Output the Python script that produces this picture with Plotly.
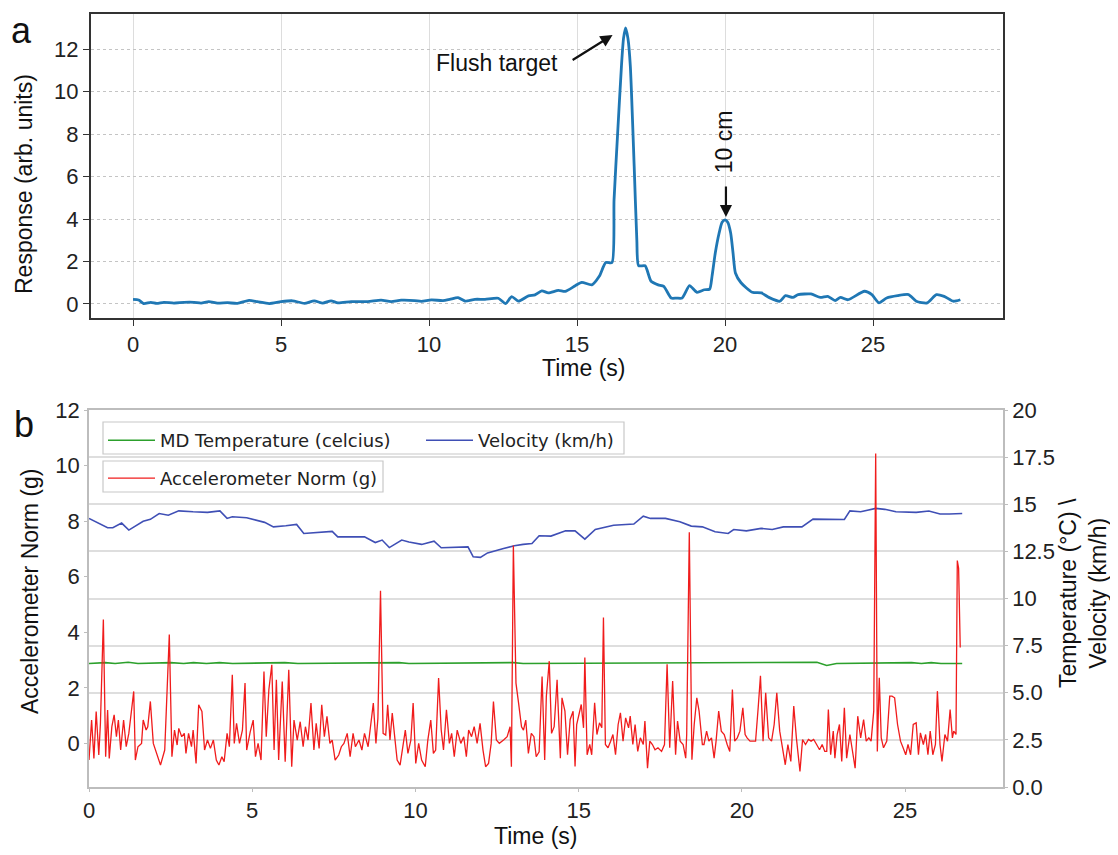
import plotly.graph_objects as go

# browser body margin offset compensation
OFF = 8
W, H = 1118 - OFF, 855 - OFF

# ---------------- Panel a : response vs time ----------------
resp_time = [0, 0.19, 0.36, 0.6, 0.8, 1.04, 1.38, 1.72, 2.06, 2.3, 2.56, 2.85, 3.19, 3.53, 3.92, 4.2, 4.6,
             5.0, 5.39, 5.79, 6.12, 6.41, 6.69, 6.92, 7.37, 7.93, 8.38, 8.72, 9.06, 9.51, 9.74, 10.08,
             10.47, 10.7, 10.98, 11.21, 11.55, 11.89, 12.34, 12.59, 12.79, 13.02, 13.36, 13.58, 13.81,
             14.03, 14.37, 14.6, 14.94, 15.16, 15.5, 15.75, 15.97, 16.18, 16.25, 16.37, 16.5, 16.57,
             16.64, 16.72, 16.8, 16.93, 17.02, 17.08, 17.3, 17.5, 17.74, 17.93, 18.18, 18.36, 18.55,
             18.8, 19.05, 19.3, 19.48, 19.56, 19.67, 19.8, 19.9, 20.0, 20.09, 20.19, 20.27, 20.35,
             20.54, 20.92, 21.23, 21.48, 21.85, 22.04, 22.29, 22.47, 22.9, 23.22, 23.47, 23.72, 23.9,
             24.15, 24.71, 24.96, 25.2, 25.46, 25.83, 26.2, 26.46, 26.83, 27.14, 27.4, 27.71, 27.95]
resp_value = [0.22, 0.19, 0.02, 0.08, 0.03, 0.08, 0.04, 0.08, 0.08, 0.04, 0.11, 0.04, 0.06, 0.03, 0.17,
              0.11, 0.02, 0.11, 0.15, 0.03, 0.15, 0.04, 0.15, 0.05, 0.11, 0.11, 0.18, 0.11, 0.18, 0.16,
              0.12, 0.19, 0.16, 0.22, 0.3, 0.14, 0.22, 0.22, 0.27, 0.02, 0.35, 0.13, 0.38, 0.43, 0.62,
              0.52, 0.64, 0.59, 0.86, 1.02, 0.9, 1.3, 1.95, 1.95, 4.9, 8.0, 11.2, 12.5,
              13.0, 12.5, 11.2, 6.5, 3.0, 1.8, 1.8, 1.07, 0.9, 0.83, 0.28, 0.28, 0.28,
              0.86, 0.55, 0.67, 0.7, 1.3, 2.4, 3.34, 3.85, 3.96, 3.85, 3.34, 2.4, 1.46,
              1.0, 0.55, 0.52, 0.31, 0.13, 0.39, 0.31, 0.44, 0.47, 0.31, 0.36, 0.16, 0.31,
              0.2, 0.6, 0.44, 0.05, 0.28, 0.39, 0.44, 0.13, 0.05, 0.44, 0.36, 0.13, 0.2]

# ---------------- Panel b ----------------
vel_time = [0, 0.3, 0.57, 0.73, 1.0, 1.22, 1.66, 1.88, 2.15, 2.43, 2.75, 3.19, 3.63, 4.01, 4.23, 4.39,
            4.83, 5.38, 5.65, 6.03, 6.36, 6.58, 7.02, 7.45, 7.62, 8.44, 8.77, 8.98, 9.2, 9.58, 9.8,
            10.19, 10.57, 10.79, 11.61, 11.77, 11.99, 12.21, 12.7, 13.03, 13.3, 13.57, 13.79, 14.15,
            14.6, 14.89, 15.19, 15.51, 16.07, 16.69, 16.98, 17.2, 17.66, 18.1, 18.45, 18.79, 19.18,
            19.58, 19.75, 20.14, 20.59, 20.93, 21.27, 21.84, 22.18, 22.63, 23.14, 23.31, 23.64, 24.1,
            24.38, 24.72, 25.34, 25.73, 26.07, 26.36, 26.75]
vel_value = [14.25, 13.98, 13.75, 13.75, 14.0, 13.63, 14.1, 14.2, 14.51, 14.42, 14.65, 14.6, 14.57,
             14.65, 14.25, 14.34, 14.28, 14.04, 13.8, 13.86, 13.93, 13.45, 13.5, 13.56, 13.27, 13.27,
             12.97, 13.1, 12.7, 13.1, 13.0, 12.87, 13.04, 12.69, 12.74, 12.21, 12.18, 12.42, 12.65,
             12.8, 12.87, 12.92, 13.33, 13.31, 13.59, 13.59, 13.15, 13.66, 13.89, 13.95, 14.37, 14.25,
             14.25, 14.07, 13.84, 13.8, 13.54, 13.45, 13.66, 13.59, 13.72, 13.66, 13.8, 13.8, 14.21,
             14.19, 14.19, 14.65, 14.6, 14.78, 14.73, 14.6, 14.57, 14.64, 14.48, 14.48, 14.51]

temp_time = [0, 0.5, 0.8, 1.2, 1.5, 2.5, 2.9, 3.2, 3.6, 4.0, 4.4, 6.0, 6.4, 9.5, 9.8, 13.0, 13.3,
             22.0, 22.3, 22.6, 22.9, 25.2, 25.5, 25.8, 26.1, 26.75]
temp_value = [6.55, 6.6, 6.55, 6.62, 6.55, 6.6, 6.55, 6.6, 6.55, 6.6, 6.55, 6.6, 6.55, 6.6, 6.55, 6.6,
              6.55, 6.6, 6.62, 6.45, 6.55, 6.6, 6.55, 6.6, 6.55, 6.55]

acc_time = [0, 0.08, 0.15, 0.22, 0.3, 0.35, 0.44, 0.51, 0.57, 0.62, 0.7, 0.77, 0.84, 0.9, 0.97, 1.06,
            1.14, 1.22, 1.37, 1.42, 1.5, 1.61, 1.66, 1.75, 1.8, 1.88, 1.97, 2.1, 2.19, 2.32, 2.46, 2.54,
            2.62, 2.7, 2.75, 2.84, 2.92, 2.97, 3.05, 3.14, 3.19, 3.28, 3.36, 3.46, 3.54, 3.63, 3.72,
            3.81, 3.9, 3.98, 4.07, 4.14, 4.23, 4.3, 4.39, 4.45, 4.52, 4.61, 4.7, 4.78, 4.83, 4.94, 5.03,
            5.1, 5.18, 5.27, 5.36, 5.43, 5.51, 5.6, 5.67, 5.74, 5.81, 5.92, 6.01, 6.12, 6.21, 6.28,
            6.38, 6.47, 6.56, 6.63, 6.71, 6.8, 6.89, 6.96, 7.05, 7.13, 7.21, 7.29, 7.38, 7.45, 7.54,
            7.65, 7.73, 7.81, 7.91, 8.0, 8.09, 8.16, 8.27, 8.36, 8.44, 8.55, 8.62, 8.71, 8.79, 8.85,
            8.93, 9.01, 9.09, 9.15, 9.22, 9.29, 9.37, 9.44, 9.53, 9.62, 9.69, 9.77, 9.86, 9.93, 10.01,
            10.1, 10.19, 10.3, 10.38, 10.47, 10.55, 10.62, 10.71, 10.79, 10.86, 10.95, 11.04, 11.11,
            11.19, 11.28, 11.39, 11.48, 11.56, 11.63, 11.72, 11.8, 11.89, 11.98, 12.07, 12.15, 12.24,
            12.32, 12.39, 12.48, 12.57, 12.7, 12.81, 12.9, 12.94, 13.0, 13.08, 13.16, 13.25, 13.31,
            13.38, 13.46, 13.55, 13.63, 13.7, 13.79, 13.88, 13.96, 14.01, 14.1, 14.17, 14.25, 14.34,
            14.36, 14.44, 14.49, 14.58, 14.66, 14.74, 14.83, 14.89, 14.94, 15.03, 15.08, 15.15, 15.19,
            15.26, 15.34, 15.4, 15.49, 15.56, 15.64, 15.71, 15.76, 15.82, 15.9, 15.98, 16.05, 16.13,
            16.21, 16.28, 16.36, 16.44, 16.53, 16.58, 16.66, 16.73, 16.81, 16.89, 16.98, 17.03, 17.11,
            17.18, 17.26, 17.34, 17.43, 17.54, 17.63, 17.71, 17.79, 17.88, 17.97, 18.03, 18.11, 18.2,
            18.28, 18.31, 18.39, 18.47, 18.54, 18.62, 18.69, 18.79, 18.84, 18.92, 18.99, 19.07, 19.15,
            19.21, 19.29, 19.37, 19.46, 19.55, 19.63, 19.71, 19.78, 19.86, 19.94, 20.03, 20.1, 20.16,
            20.25, 20.34, 20.42, 20.5, 20.57, 20.65, 20.73, 20.82, 20.91, 20.99, 21.07, 21.16, 21.25,
            21.33, 21.41, 21.5, 21.59, 21.67, 21.78, 21.86, 21.95, 22.04, 22.12, 22.2, 22.29, 22.38,
            22.46, 22.54, 22.6, 22.65, 22.72, 22.8, 22.85, 22.92, 22.99, 23.06, 23.14, 23.21, 23.31,
            23.4, 23.47, 23.55, 23.64, 23.73, 23.81, 23.89, 23.96, 24.04, 24.1, 24.15, 24.21, 24.27,
            24.34, 24.44, 24.53, 24.6, 24.68, 24.77, 24.86, 24.94, 25.02, 25.09, 25.17, 25.25, 25.34,
            25.41, 25.47, 25.56, 25.63, 25.7, 25.77, 25.85, 25.93, 25.99, 26.07, 26.13, 26.22, 26.3,
            26.38, 26.45, 26.49, 26.56, 26.6, 26.64, 26.69]
acc_value = [-0.6, 0.84, -0.54, 1.15, -0.42, 0.72, 4.46, -0.48, 1.2, -0.54, 0.6, 1.03, 0.24, 0.84,
             -0.24, 0.84, -0.12, 0.36, 1.87, -0.6, -0.12, 0, 0.84, 0.48, 0.6, 1.51, 0, -0.48, -0.78,
             -0.24, 3.92, -0.48, 0.48, -0.06, 0.54, 0.24, 0.36, -0.36, 0.36, -0.12, 0.48, -0.72, 1.39,
             1.15, -0.24, 0.12, -0.18, 0.12, -0.6, -0.78, -0.48, -0.66, 0.36, -0.12, 2.47, 0, 0.72, 0,
             0.48, 2.17, -0.24, 0.42, 0.84, -0.48, 0, -0.6, 2.59, 0.24, 1.93, 2.83, -0.24, 2.29, -0.6,
             2.23, -0.66, 2.65, -0.84, 0.84, 0.12, 0.78, -0.12, 0.6, 0.12, 1.45, -0.24, 0.72, -0.18,
             1.39, 0.24, 0.97, 0, 0.12, -0.6, -0.42, -0.12, 0, 0.36, -0.48, 0.36, -0.12, 0.12, -0.24,
             0.36, -0.12, 0.6, 1.45, 0, 0.9, 5.49, 0.36, 0.3, 1.39, 0.12, 1.09, 0.18, -0.6, -0.78, 0,
             0.48, -0.36, 0.12, 1.45, -0.72, 0, -0.6, -0.84, 0.12, 0.84, -0.36, -0.24, 2.35, 0.48,
             -0.24, 1.21, 0, 0.36, -0.48, 0.48, 0, 0.24, -0.48, 0.48, 0.24, 0.6, 0, 0.72, -0.24, -0.84,
             -0.72, 0, 1.51, 0.12, 0, 0.12, 0.24, 0.6, -0.84, 7.12, 2.17, 1.45, 0.6, 0.48, 0.84, -0.36,
             0.36, 0.24, -0.48, -0.3, 2.41, -0.6, 1.69, 2.96, 0.36, 0.6, 2.29,
             1.64, -0.53, 1.64, 1.16, -0.41, 0.86, 1.16, -0.83, 0.68, 1.16, 1.4, 0.56, 3.09, -0.41,
             -0.04, -0.41, 1.46, 0.32, 0.74, 0.56, 4.53, -0.04, -0.16, 0.08, 0.32, -0.41, 0.68, 1.1,
             0.08, 0.92, 0.56, 0.98, -0.04, 0.68, -0.29, 0.2, -0.04, 0.8, -0.89, 0.08, -0.04, -0.23,
             -0.16, -0.29, -0.04, 2.85, -0.16, 2.24, -0.41, 0.8, 0.08, -0.04, -0.53, 0.32, 7.6, -0.59,
             0.68, 1.64, 1.16, -0.04, -0.04, 0.44, 0.08, 0.2, -0.53, 0.08, 1.16, 0.44, 0.32, -0.04,
             -0.29, 1.94, 0.08, 0.2, 0.44, 1.28, 0.32, 0.2, 0.08, 0.08, 0.08, 1.28, 2.43, 0.08, 1.82,
             0.2, 0.08, 0.68, 1.82, 0.44, -0.29, -0.77, -0.04, -0.65, 1.34, 0.2, -1.01, 0.14, -0.04,
             0.14, 0.08, 0.14, -0.04, -0.23, -0.04, -0.29, -0.29, 1.22, -0.41, 0.44, -0.53, 0.32, 0.68,
             -0.65, 1.28, -0.53, 0.32, -0.29, -0.89, 0.98, 0.2, 0.86, 0.08, 0.2, 0.08, 1.16, 10.43,
             -0.29, 2.36, 0.2, -0.16, 0.08, 1.7, 1.7, 1.64, 0.68, 0.08, -0.16, -0.41, -0.04, -0.41,
             0.68, 0.74, -0.41, 0.38, -0.04, 0.32, -0.41, 0.44, -0.41, -0.04, 1.88, -0.04, -0.65, 0.32,
             0.08, 1.22, 0.2, 0.44, 0.32, 6.58, 6.3, 3.45]

assert len(resp_time) == len(resp_value), (len(resp_time), len(resp_value))
assert len(vel_time) == len(vel_value), (len(vel_time), len(vel_value))
assert len(temp_time) == len(temp_value)
assert len(acc_time) == len(acc_value), (len(acc_time), len(acc_value))

a_xticks = [0, 5, 10, 15, 20, 25]
a_yticks = [0, 2, 4, 6, 8, 10, 12]
b_xticks = [0, 5, 10, 15, 20, 25]
b_left_ticks = [0, 2, 4, 6, 8, 10, 12]
b_right_ticks = [0, 2.5, 5, 7.5, 10, 12.5, 15, 17.5, 20]
b_right_labels = ["0.0", "2.5", "5.0", "7.5", "10", "12.5", "15", "17.5", "20"]

FONT = "Liberation Sans, Arial, sans-serif"
LEGFONT = "DejaVu Sans, sans-serif"
TICKCOL = "#222222"


def px_x(p):
    return (p - OFF) / W


def px_y(p):
    return 1 - (p - OFF) / H


fig = go.Figure()

fig.add_trace(go.Scatter(x=resp_time, y=resp_value, mode="lines", xaxis="x", yaxis="y",
                         line=dict(color="#1f77b4", width=2.8, shape="spline", smoothing=0.6),
                         showlegend=False))

fig.add_trace(go.Scatter(x=temp_time, y=temp_value, mode="lines", xaxis="x2", yaxis="y2",
                         name="MD Temperature (celcius)", legend="legend",
                         line=dict(color="#2ca02c", width=1.6)))
fig.add_trace(go.Scatter(x=vel_time, y=vel_value, mode="lines", xaxis="x2", yaxis="y2",
                         name="Velocity (km/h)", legend="legend3",
                         line=dict(color="#3f4fb5", width=1.6)))
fig.add_trace(go.Scatter(x=acc_time, y=acc_value, mode="lines", xaxis="x2", yaxis="y3",
                         name="Accelerometer Norm (g)", legend="legend2",
                         line=dict(color="#f01c1c", width=1.3)))

tickfont = dict(family=FONT, size=22, color=TICKCOL)

legfont = dict(family=LEGFONT, size=18, color="#222222")
legbase = dict(orientation="h", xanchor="left", yanchor="top", bgcolor="rgba(0,0,0,0)",
               borderwidth=0, font=legfont, itemwidth=47)

fig.update_layout(
    width=W, height=H,
    margin=dict(l=0, r=0, t=0, b=0),
    paper_bgcolor="white", plot_bgcolor="white",
    xaxis=dict(domain=[px_x(91), px_x(1003)], anchor="y", range=[-1.42, 29.39],
               tickvals=a_xticks, showgrid=True, gridcolor="#dddddd", gridwidth=1,
               showline=True, linecolor="#333333", linewidth=2, mirror=True,
               ticks="outside", ticklen=6, tickcolor="#333333", tickfont=tickfont,
               zeroline=False, automargin=False),
    yaxis=dict(domain=[px_y(318), px_y(14)], anchor="x", range=[-0.66, 13.65],
               tickvals=a_yticks, showgrid=True, gridcolor="#c4c4c4", griddash="dot", gridwidth=1,
               showline=True, linecolor="#333333", linewidth=2, mirror=True,
               ticks="outside", ticklen=6, tickcolor="#333333", tickfont=tickfont,
               zeroline=False, automargin=False),
    xaxis2=dict(domain=[px_x(89), px_x(1003)], anchor="y2", range=[0, 28],
                tickvals=b_xticks, showgrid=False,
                showline=True, linecolor="#bdbdbd", linewidth=1.5, mirror=True,
                ticks="outside", ticklen=3, tickcolor="#bdbdbd", tickfont=tickfont,
                zeroline=False, automargin=False),
    yaxis2=dict(domain=[px_y(787), px_y(410)], anchor="x2", side="right", range=[0, 20],
                tickvals=b_right_ticks, ticktext=b_right_labels,
                showgrid=True, gridcolor="#dedede", gridwidth=1.5,
                showline=True, linecolor="#bdbdbd", linewidth=1.5,
                ticks="outside", ticklen=3, tickcolor="#bdbdbd", tickfont=tickfont,
                zeroline=False, automargin=False),
    yaxis3=dict(overlaying="y2", anchor="x2", side="left", range=[-1.57, 12],
                tickvals=b_left_ticks, showgrid=False,
                showline=True, linecolor="#bdbdbd", linewidth=1.5,
                ticks="outside", ticklen=3, tickcolor="#bdbdbd", tickfont=tickfont,
                zeroline=False, automargin=False),
    legend=dict(legbase, x=px_x(103), y=px_y(422)),
    legend3=dict(legbase, x=px_x(421), y=px_y(422)),
    legend2=dict(legbase, x=px_x(103), y=px_y(460)),
)

# legend frames
shapes = [
    dict(type="rect", xref="paper", yref="paper", x0=px_x(103), x1=px_x(624), y0=px_y(454), y1=px_y(422),
         line=dict(color="#c8c8c8", width=1.2), fillcolor="white", layer="above"),
    dict(type="rect", xref="paper", yref="paper", x0=px_x(103), x1=px_x(383), y0=px_y(492), y1=px_y(461),
         line=dict(color="#c8c8c8", width=1.2), fillcolor="white", layer="above"),
]
fig.update_layout(shapes=shapes)

anns = []
txt = dict(family=FONT, size=23, color="#111111")
mid = dict(xanchor="center", yanchor="middle", showarrow=False, xref="paper", yref="paper")
# panel labels
anns.append(dict(mid, x=px_x(21), y=px_y(31), text="a", font=dict(family=FONT, size=36, color="#111111")))
anns.append(dict(mid, x=px_x(24), y=px_y(424), text="b", font=dict(family=FONT, size=36, color="#111111")))
# axis titles
anns.append(dict(mid, x=px_x(24), y=px_y(184), text="Response (arb. units)", textangle=-90, font=txt))
anns.append(dict(mid, x=px_x(583), y=px_y(368), text="Time (s)", font=txt))
anns.append(dict(mid, x=px_x(30), y=px_y(592), text="Accelerometer Norm (g)", textangle=-90, font=txt))
anns.append(dict(mid, x=px_x(535), y=px_y(836), text="Time (s)", font=txt))
anns.append(dict(mid, x=px_x(1083), y=px_y(593), text="Temperature (°C) \\<br>Velocity (km/h)",
                 textangle=-90, font=txt))
# panel a annotations
anns.append(dict(x=12.3, y=11.34, xref="x", yref="y", text="Flush target", showarrow=False,
                 xanchor="center", yanchor="middle", font=txt))
anns.append(dict(x=16.2, y=12.66, ax=14.8, ay=11.44, xref="x", yref="y", axref="x", ayref="y",
                 text="", showarrow=True, arrowhead=2, arrowsize=1.1, arrowwidth=2.2,
                 arrowcolor="#111111"))
anns.append(dict(x=19.97, y=7.62, xref="x", yref="y", text="10 cm", textangle=-90,
                 xanchor="center", yanchor="middle", showarrow=False, font=txt))
anns.append(dict(x=20.03, y=4.09, ax=20.03, ay=5.6, xref="x", yref="y", axref="x", ayref="y",
                 text="", showarrow=True, arrowhead=2, arrowsize=1.1, arrowwidth=2.2,
                 arrowcolor="#111111"))
fig.update_layout(annotations=anns)

fig.write_html("out.html")
